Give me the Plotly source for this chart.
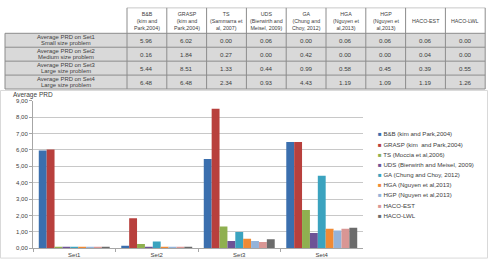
import plotly.graph_objects as go

categories = ["Set1", "Set2", "Set3", "Set4"]
series_names = ["B&B (kim and Park,2004)", "GRASP (kim  and Park,2004)", "TS (Moccia et al,2006)",
                "UDS (Bierwirth and Meisel, 2009)", "GA (Chung and Choy, 2012)", "HGA (Nguyen et al,2013)",
                "HGP (Nguyen et al,2013)", "HACO-EST", "HACO-LWL"]
table_headers = ["B&B<br>(kim and<br>Park,2004)", "GRASP<br>(kim and<br>Park,2004)", "TS<br>(Sammarra et<br>al, 2007)",
                 "UDS<br>(Bierwirth and<br>Meisel, 2009)", "GA<br>(Chung and<br>Choy, 2012)", "HGA<br>(Nguyen et<br>al,2013)",
                 "HGP<br>(Nguyen et<br>al,2013)", "HACO-EST", "HACO-LWL"]
row_labels = ["Average PRD on Set1<br>Small size problem", "Average PRD on Set2<br>Medium size problem",
              "Average PRD on Set3<br>Large size problem", "Average PRD on Set4<br>Large size problem"]
# values[series][set]
values = [
    [5.96, 0.16, 5.44, 6.48],
    [6.02, 1.84, 8.51, 6.48],
    [0.00, 0.27, 1.33, 2.34],
    [0.06, 0.00, 0.44, 0.93],
    [0.00, 0.42, 0.99, 4.43],
    [0.06, 0.00, 0.58, 1.19],
    [0.06, 0.00, 0.45, 1.09],
    [0.06, 0.04, 0.39, 1.19],
    [0.00, 0.00, 0.55, 1.26],
]
y_ticks = [0, 1, 2, 3, 4, 5, 6, 7, 8, 9]
y_ticktext = ["0,00", "1,00", "2,00", "3,00", "4,00", "5,00", "6,00", "7,00", "8,00", "9,00"]
colors = ["#3b6fae", "#b8403d", "#8fb050", "#6e5396", "#3ba3bf", "#f08a35", "#94b3d9", "#d99694", "#6b6b6b"]

W, H = 488, 265
FONT = "Liberation Sans"
TXT = "#404040"
fig = go.Figure()

def px(x):
    return x / W

def py(y):
    return 1 - y / H

# ---- Table drawn with shapes + annotations ----
col_w = [122] + [39.8] * 9
col_x = [5]
for w in col_w:
    col_x.append(col_x[-1] + w)
row_y = [5, 31, 45.25, 59.5, 73.75, 88]
LINE = "#8c8c8c"

fig.add_shape(type="rect", xref="paper", yref="paper", x0=px(col_x[0]), x1=px(col_x[-1]),
              y0=py(row_y[-1]), y1=py(row_y[1]), fillcolor="#d9d9d9", line_width=0, layer="below")
for j, y in enumerate(row_y):
    x0 = col_x[1] if j == 0 else col_x[0]
    fig.add_shape(type="line", xref="paper", yref="paper", x0=px(x0), x1=px(col_x[-1]), y0=py(y), y1=py(y),
                  line=dict(color=LINE if j > 0 else "#c8c8c8", width=1))
for i, x in enumerate(col_x):
    y0 = row_y[1] if i == 0 else row_y[0]
    fig.add_shape(type="line", xref="paper", yref="paper", x0=px(x), x1=px(x), y0=py(y0), y1=py(row_y[-1]),
                  line=dict(color=LINE, width=1))
for i, h in enumerate(table_headers):
    cx = (col_x[i + 1] + col_x[i + 2]) / 2
    fig.add_annotation(xref="paper", yref="paper", x=px(cx), y=py((row_y[0] + row_y[1]) / 2),
                       text=h, showarrow=False, borderpad=0, xanchor="center", yanchor="middle",
                       font=dict(family=FONT, size=5.3, color=TXT))
for r, lab in enumerate(row_labels):
    cy = (row_y[r + 1] + row_y[r + 2]) / 2
    for k, line in enumerate(lab.split("<br>")):
        fig.add_annotation(xref="paper", yref="paper", x=px((col_x[0] + col_x[1]) / 2),
                           y=py(cy + (k - 0.5) * 6.4),
                           text=line, showarrow=False, borderpad=0, xanchor="center", yanchor="middle",
                           font=dict(family=FONT, size=5.9, color=TXT))
    for s, vals in enumerate(values):
        cx = (col_x[s + 1] + col_x[s + 2]) / 2
        fig.add_annotation(xref="paper", yref="paper", x=px(cx), y=py(cy),
                           text=f"{vals[r]:.2f}", showarrow=False, borderpad=0,
                           xanchor="center", yanchor="middle",
                           font=dict(family=FONT, size=6.2, color=TXT))

# ---- Bars ----
for name, vals, c in zip(series_names, values, colors):
    fig.add_trace(go.Bar(x=categories, y=[max(v, 0.05) for v in vals], name=name, marker_color=c,
                         marker_line_width=0, showlegend=False))

# Manual legend
for i, (name, c) in enumerate(zip(series_names, colors)):
    fig.add_annotation(xref="paper", yref="paper", x=px(377), y=py(134 + i * 10.4),
                       xanchor="left", yanchor="middle", showarrow=False, borderpad=0,
                       text=f"<span style='color:{c}'>■</span> {name}",
                       font=dict(family=FONT, size=6.1, color=TXT))

fig.add_annotation(xref="paper", yref="paper", x=px(12), y=py(94), xanchor="left", yanchor="middle",
                   showarrow=False, borderpad=0, text="Average PRD", font=dict(family=FONT, size=6.5, color=TXT))

fig.add_shape(type="rect", xref="paper", yref="paper", x0=px(0.5), x1=px(487.5), y0=py(261), y1=py(89.5),
              line=dict(color="#d9d9d9", width=1), layer="below")

fig.update_layout(
    width=W, height=H, margin=dict(l=0, r=0, t=0, b=0),
    paper_bgcolor="white", plot_bgcolor="white",
    barmode="group", bargap=0.14, bargroupgap=0,
    xaxis=dict(domain=[px(33), px(363)], anchor="y", showline=True, linecolor="#a6a6a6", linewidth=1,
               ticks="outside", tickson="boundaries", ticklen=3, tickcolor="#a6a6a6",
               tickfont=dict(family=FONT, size=6, color=TXT)),
    yaxis=dict(domain=[py(251), py(100)], range=[0, 9], tickvals=y_ticks, ticktext=y_ticktext,
               showgrid=True, gridcolor="#c8c8c8", gridwidth=1, showline=True, linecolor="#a6a6a6",
               ticks="outside", ticklen=3, tickcolor="#a6a6a6", zeroline=False,
               tickfont=dict(family=FONT, size=6, color=TXT)),
    showlegend=False,
)
fig.write_html("out.html")
